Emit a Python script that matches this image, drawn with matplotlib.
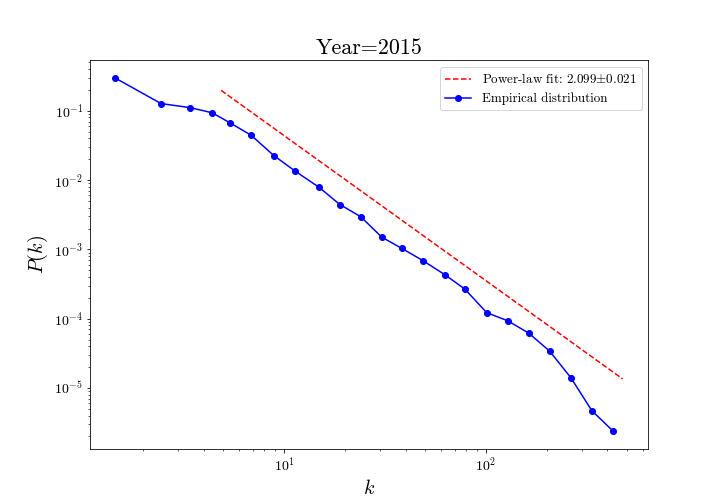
import matplotlib
matplotlib.use("Agg")
import matplotlib.pyplot as plt
import numpy as np

plt.rcParams['font.family'] = 'serif'
plt.rcParams['font.serif'] = ['cmr10', 'DejaVu Serif']
plt.rcParams['mathtext.fontset'] = 'cm'
plt.rcParams['axes.formatter.use_mathtext'] = True

k = [1.46, 2.46, 3.43, 4.41, 5.41, 6.87, 8.9, 11.3, 14.9, 18.9, 24.0, 30.5, 38.4,
     48.7, 62.7, 78.7, 101, 128, 163, 207, 264, 335, 426]
pk = [0.296, 0.127, 0.111, 0.0935, 0.0667, 0.0444, 0.0226, 0.0136, 0.00788, 0.00444,
      0.00296, 0.0015, 0.00103, 0.00069, 0.00043, 0.000267, 0.000122, 9.35e-5,
      6.2e-5, 3.4e-5, 1.4e-5, 4.7e-6, 2.4e-6]
fit_k = [4.88, 476]
fit_p = [0.197, 1.35e-5]

fig, ax = plt.subplots(figsize=(10, 7), dpi=72)
ax.plot(fit_k, fit_p, 'r--', label=r'Power-law fit: 2.099$\pm$0.021')
ax.plot(k, pk, 'b-o', label='Empirical distribution')
ax.set_xscale('log')
ax.set_yscale('log')
ax.set_title('Year=2015', fontsize=22)
ax.set_xlabel(r'$k$', fontsize=20)
ax.set_ylabel(r'$P(k)$', fontsize=20)
ax.tick_params(labelsize=14)
ax.legend(fontsize=13)
fig.savefig('out.png')
